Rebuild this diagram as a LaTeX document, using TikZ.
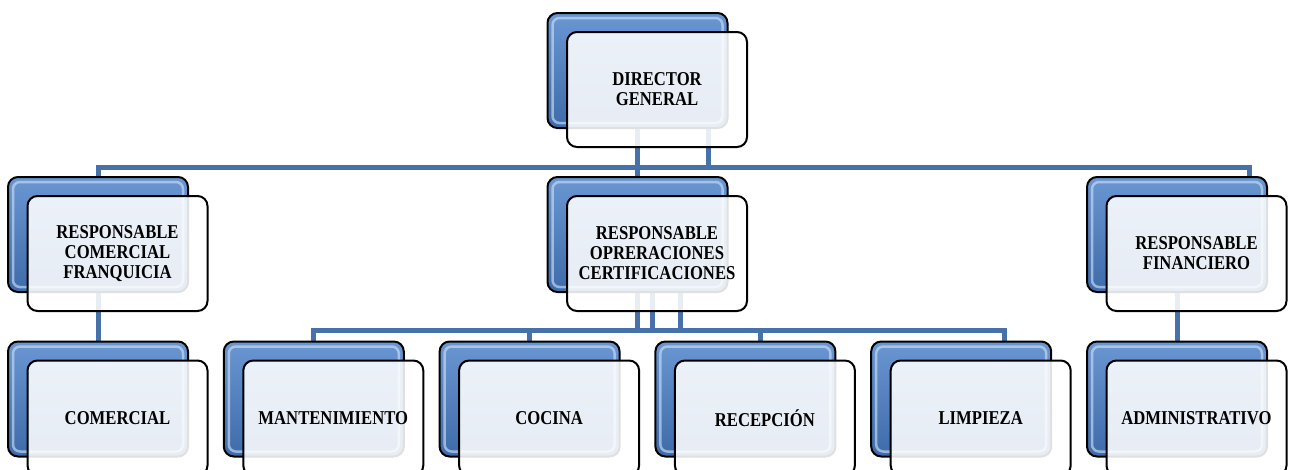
\documentclass[tikz,border=0pt]{standalone}
\usepackage{fontspec}
\setmainfont{Liberation Serif}
\newfontfamily\boxfont{Liberation Serif}[FakeStretch=0.85]
\usetikzlibrary{calc,backgrounds}
\definecolor{conncol}{HTML}{4672A9}
\definecolor{bluetop}{HTML}{6A97D2}
\definecolor{bluebot}{HTML}{3E6BA9}
\definecolor{rimcol}{HTML}{C9DCF2}
\tikzset{
  conn/.style={draw=conncol, line width=5pt},
  backbox/.style={draw=black, line width=2pt, rounded corners=10pt,
    minimum width=180pt, minimum height=115pt, inner sep=0pt, outer sep=0pt,
    top color=bluetop, bottom color=bluebot},
  rim/.style={draw=rimcol, line width=2.5pt, rounded corners=7pt, opacity=0.65},
  frontbox/.style={draw=black, line width=2pt, rounded corners=10pt,
    minimum width=180pt, minimum height=115pt, inner sep=2pt, outer sep=0pt,
    fill=white, fill opacity=0.88, text opacity=1, draw opacity=1, align=center,
    font=\boxfont\fontsize{19.6}{20}\selectfont\bfseries},
}
\newcommand\orgunit[4]{%
  \node[backbox] (#1b) at (#2,#3) {};
  \draw[rim] ([shift={(5,5)}]#1b.north west) rectangle ([shift={(-5,-5)}]#1b.south east);
  \node[frontbox] (#1) at ($(#2,#3)+(19.5,19)$) {#4};
}
\begin{document}
\begin{tikzpicture}[x=1pt,y=-1pt]
\useasboundingbox (0,0) rectangle (1289,469);
% row 1
\orgunit{dg}{637.5}{70.5}{DIRECTOR\\GENERAL}
% row 2
\orgunit{l}{98}{234.5}{RESPONSABLE\\COMERCIAL\\FRANQUICIA}
\orgunit{m}{637.5}{234.5}{RESPONSABLE\\OPRERACIONES\\CERTIFICACIONES}
\orgunit{r}{1177}{234.5}{RESPONSABLE\\FINANCIERO}
% row 3
\orgunit{ca}{98}{399}{COMERCIAL}
\orgunit{cb}{313.8}{399}{MANTENIMIENTO}
\orgunit{cc}{529.6}{399}{COCINA}
\orgunit{cd}{745.4}{399}{RECEPCIÓN}
\orgunit{ce}{961.2}{399}{LIMPIEZA}
\orgunit{cf}{1177}{399}{ADMINISTRATIVO}
% connectors
\begin{scope}[on background layer]
  \fill[white] (0,0) rectangle (1289,469);
  \coordinate (jR) at (1249,167);
  \coordinate (jD) at (708,167);
  \draw[conn] (lb.north) |- (jR) -- (jR |- rb.north);
  \draw[conn] (dgb.south) -- (mb.north);
  \draw[conn] (jD |- dgb.south) -- (jD);
  \draw[conn] (lb.south) -- (cab.north);
  \draw[conn] (rb.south) -- (cfb.north);
  \coordinate (k1) at (652,330);
  \coordinate (k2) at (680,330);
  \coordinate (k3) at (760,330);
  \coordinate (k4) at (1004,330);
  \draw[conn] (mb.south) -- (mb.south |- k1);
  \draw[conn] (k1 |- mb.south) -- (k1);
  \draw[conn] (k2 |- mb.south) -- (k2);
  \draw[conn] (cbb.north) |- (k4) -- (k4 |- ceb.north);
  \draw[conn] (ccb.north) -- (ccb.north |- k1);
  \draw[conn] (k3) -- (k3 |- cdb.north);
\end{scope}
\end{tikzpicture}
\end{document}
